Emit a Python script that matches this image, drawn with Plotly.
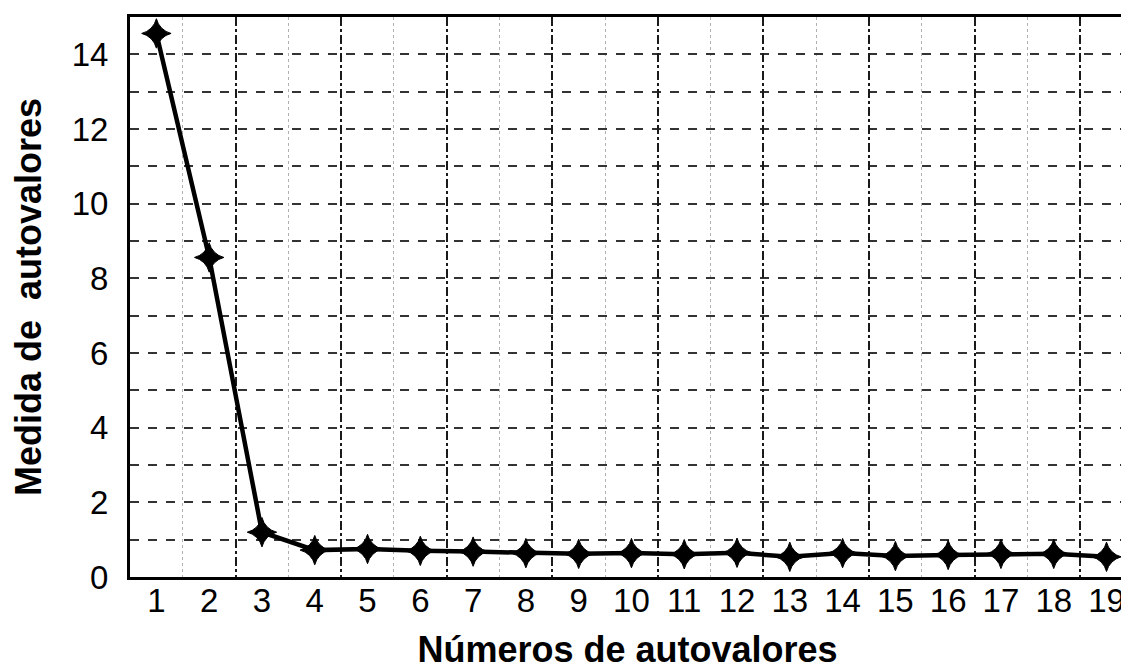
import plotly.graph_objects as go

x_vals = list(range(1, 20))
y_vals = [14.56, 8.56, 1.20, 0.72, 0.75, 0.70, 0.68, 0.64, 0.62, 0.64,
          0.61, 0.65, 0.54, 0.64, 0.56, 0.59, 0.62, 0.62, 0.54]
x_ticks = list(range(1, 20))
y_tick_vals = list(range(0, 16))
y_tick_text = [str(v) if v % 2 == 0 and v <= 14 else "" for v in y_tick_vals]
x_major_grid = [2.5 + 2 * i for i in range(9)]
x_minor_grid = [1.5 + 2 * i for i in range(9)]

FONT = "Liberation Sans, Arial, sans-serif"

fig = go.Figure()
fig.add_trace(go.Scatter(
    x=x_vals, y=y_vals, mode="lines+markers",
    line=dict(color="black", width=4.5),
    marker=dict(symbol="star-diamond", size=21, color="black",
                line=dict(color="black", width=1)),
    showlegend=False, hoverinfo="x+y",
))
fig.add_trace(go.Scatter(x=[0.5, 19.35], y=[0, 0], xaxis="x2", mode="lines",
                         line=dict(width=0), showlegend=False, hoverinfo="skip"))

fig.update_layout(
    width=1121, height=662,
    margin=dict(l=122, r=4, t=9, b=93, autoexpand=False),
    paper_bgcolor="white", plot_bgcolor="white",
    font=dict(family=FONT, color="black", size=33),
    xaxis=dict(
        range=[0.5, 19.35], tickmode="array", tickvals=x_ticks,
        ticktext=[str(v) for v in x_ticks],
        showgrid=False, zeroline=False, ticks="",
        showline=True, linecolor="black", linewidth=3, mirror=True,
        ticklabelstandoff=-8,
        tickfont=dict(size=33),
        minor=dict(tickmode="array", tickvals=x_minor_grid, showgrid=True,
                   gridcolor="#b0b0b0", griddash="dot", gridwidth=1, ticks=""),
        title=dict(text="<b>Números de autovalores</b>", font=dict(size=36),
                   standoff=20),
    ),
    xaxis2=dict(
        range=[0.5, 19.35], overlaying="x", tickmode="array",
        tickvals=x_major_grid, showticklabels=False, showgrid=True,
        gridcolor="#1a1a1a", griddash="dashdot", gridwidth=2,
        zeroline=False, ticks="", showline=False,
    ),
    yaxis=dict(
        range=[0, 15], tickmode="array", tickvals=y_tick_vals,
        ticktext=y_tick_text, showgrid=True, gridcolor="#333333",
        griddash="dash", gridwidth=1.5, zeroline=False, ticks="",
        showline=True, linecolor="black", linewidth=3,
        ticklabelstandoff=12, tickfont=dict(size=33),
        title=dict(text="<b>Medida de  autovalores</b>", font=dict(size=36),
                   standoff=20),
    ),
)

fig.write_html("out.html")
